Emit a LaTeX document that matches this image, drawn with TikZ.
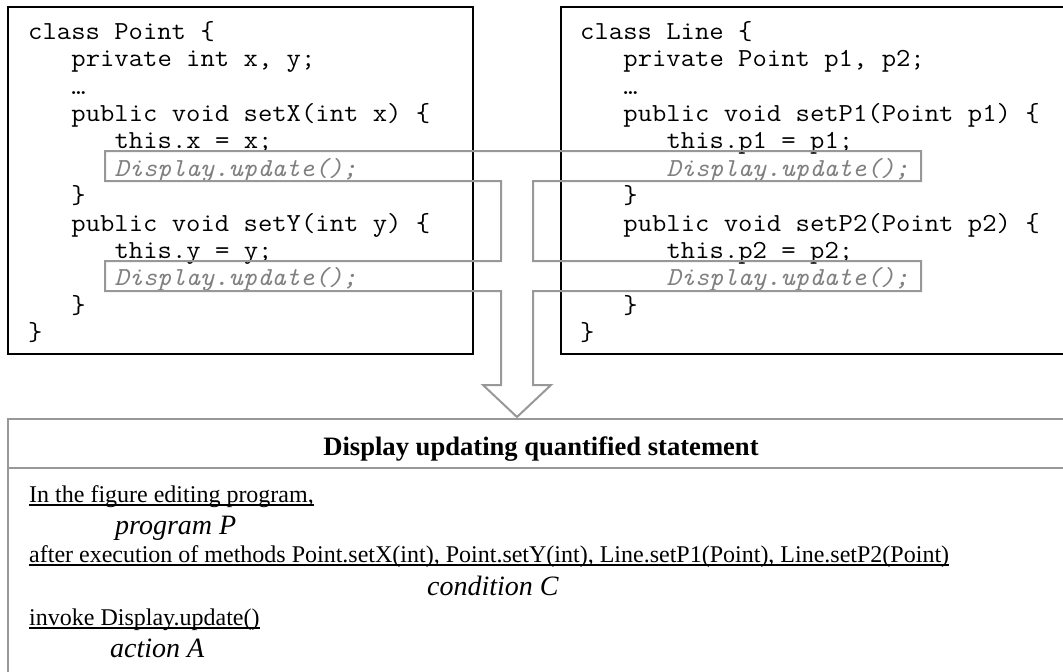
\documentclass[tikz,border=0pt]{standalone}
\usepackage{fontspec}
\setmainfont{Liberation Serif}
\definecolor{framegray}{RGB}{152,152,152}
\definecolor{codegray}{RGB}{128,128,128}
% widen the typewriter face to a 14.4pt character cell
\newcommand\cw{14.4}
\newcommand\wide[1]{\scalebox{1.072}[1]{#1}}
% the slanted calls lean further right, so they are set a little narrower
\newcommand\upd{\scalebox{0.975}[1]{\textcolor{codegray}{\itshape Display.update();}}}
\tikzset{
  classbox/.style={draw=black, line width=2.2pt},
  code/.style={anchor=base west, inner sep=0pt, font=\fontsize{26}{28}\selectfont\ttfamily},
  funnel/.style={draw=framegray, line width=2pt, line join=miter},
  panel/.style={draw=framegray, line width=2pt},
  heading/.style={anchor=base, inner sep=0pt, font=\fontsize{26.6}{30}\selectfont\bfseries},
  plain/.style={anchor=base west, inner sep=0pt, font=\fontsize{24}{28}\selectfont},
  role/.style={anchor=base west, inner sep=0pt, font=\fontsize{28}{32}\selectfont\itshape},
  uline/.style={draw=black, line width=1.4pt},
}
\begin{document}
\begin{tikzpicture}[x=1pt, y=-1pt]
\useasboundingbox (0,0) rectangle (1063,672);
\begin{scope}
\clip (0,0) rectangle (1063,672);

% the two class listings
\draw[classbox] (8,7) rectangle (473,354);
\draw[classbox] (561,7) rectangle (1075,354);

\foreach \lvl/\txt [count=\i from 0] in {
  0/{class Point \{},
  3/{private int x, y;},
  3/{…},
  3/{public void setX(int x) \{},
  6/{this.x = x;},
  6/{\upd},
  3/{\}},
  3/{public void setY(int y) \{},
  6/{this.y = y;},
  6/{\upd},
  3/{\}},
  0/{\}}}
  \node[code, name=pt\i] at ({28+\lvl*\cw},{39.3+27.4*\i}) {\wide{\txt}};

\foreach \lvl/\txt [count=\i from 0] in {
  0/{class Line \{},
  3/{private Point p1, p2;},
  3/{…},
  3/{public void setP1(Point p1) \{},
  6/{this.p1 = p1;},
  6/{\upd},
  3/{\}},
  3/{public void setP2(Point p2) \{},
  6/{this.p2 = p2;},
  6/{\upd},
  3/{\}},
  0/{\}}}
  \node[code, name=ln\i] at ({580+\lvl*\cw},{39.3+27.4*\i}) {\wide{\txt}};

% frame around the four update calls, merging into one arrow
\coordinate (tip) at (517,417);
\draw[funnel] (tip) -- (551,385) -- (533,385) -- (533,291) -- (921,291)
  -- (921,261) -- (533,261) -- (533,181) -- (921,181) -- (921,151)
  -- (105,151) -- (105,181) -- (501,181) -- (501,261) -- (105,261)
  -- (105,291) -- (501,291) -- (501,385) -- (483,385) -- cycle;

% the quantified statement panel
\draw[panel] (8,419) rectangle (1080,690);
\draw[panel] (8,468) -- (1080,468);
\node[heading, name=title] at (541,455) {Display updating quantified statement};

\node[plain, name=p1] at (29,502) {In the figure editing program,};
\draw[uline] ([yshift=-3pt]p1.base west) -- ([yshift=-3pt]p1.base east);
\node[role, name=r1] at (115,534) {program P};

\node[plain, name=p2] at (29,562) {after execution of methods Point.setX(int), Point.setY(int), Line.setP1(Point), Line.setP2(Point)};
\draw[uline] ([yshift=-3pt]p2.base west) -- ([yshift=-3pt]p2.base east);
\node[role, name=r2] at (427,595) {condition C};

\node[plain, name=p3] at (29,625) {invoke Display.update()};
\draw[uline] ([yshift=-3pt]p3.base west) -- ([yshift=-3pt]p3.base east);
\node[role, name=r3] at (110,657) {action A};
\end{scope}
\end{tikzpicture}
\end{document}
